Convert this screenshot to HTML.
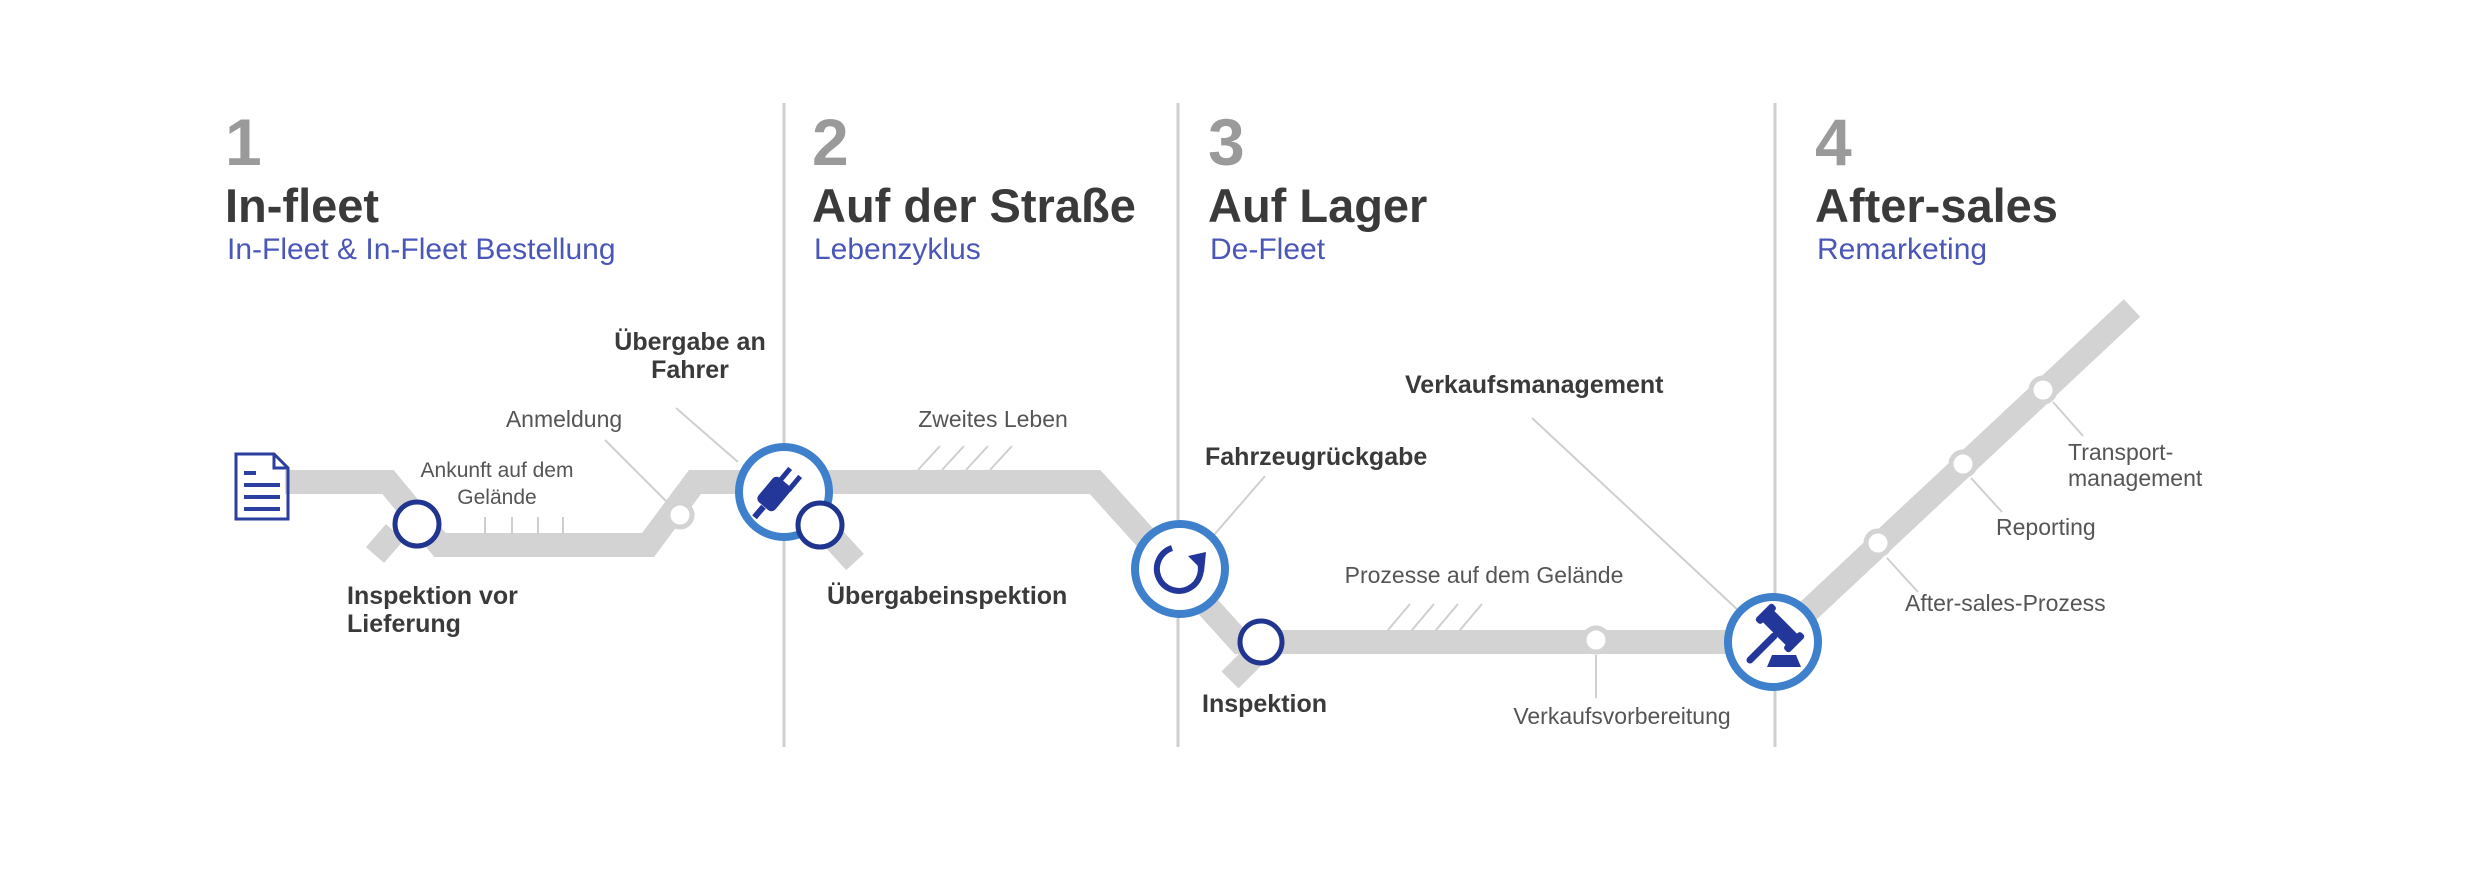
<!DOCTYPE html>
<html><head><meta charset="utf-8"><style>
html,body{margin:0;padding:0;background:#fff;}
svg{display:block;}
text{font-family:"Liberation Sans",sans-serif;}
.num{font-size:66px;font-weight:bold;fill:#9a9a9a;}
.ttl{font-size:47px;font-weight:bold;fill:#3a3a3a;}
.sub{font-size:30px;fill:#4a56b8;}
.lb{font-size:23px;fill:#555;}
.bl{font-size:25px;font-weight:bold;fill:#3a3a3a;}
</style></head><body>
<svg width="2480" height="876" viewBox="0 0 2480 876" xmlns="http://www.w3.org/2000/svg">
<g stroke="#cfcfcf" stroke-width="3">
<line x1="784" y1="103" x2="784" y2="747"/>
<line x1="1178" y1="103" x2="1178" y2="747"/>
<line x1="1775" y1="103" x2="1775" y2="747"/>
</g>
<text class="num" x="225" y="165">1</text>
<text class="ttl" x="225" y="222">In-fleet</text>
<text class="sub" x="227" y="259">In-Fleet &amp; In-Fleet Bestellung</text>
<text class="num" x="812" y="165">2</text>
<text class="ttl" x="812" y="222">Auf der Straße</text>
<text class="sub" x="814" y="259">Lebenzyklus</text>
<text class="num" x="1208" y="165">3</text>
<text class="ttl" x="1208" y="222">Auf Lager</text>
<text class="sub" x="1210" y="259">De-Fleet</text>
<text class="num" x="1815" y="165">4</text>
<text class="ttl" x="1815" y="222">After-sales</text>
<text class="sub" x="1817" y="259">Remarketing</text>

<g fill="none" stroke="#d3d3d3" stroke-width="24" stroke-linejoin="miter">
<path d="M285 482 L388 482 L440 545 L648 545 L695 482 L1095 482 L1240 642 L1775 642 L2132 308"/>
<line x1="395" y1="532" x2="375" y2="555"/>
<line x1="835" y1="540" x2="855" y2="562"/>
<line x1="1255" y1="655" x2="1230" y2="680"/>
</g>
<g stroke="#cfcfcf" stroke-width="2" fill="none">
<line x1="485" y1="517" x2="485" y2="535"/>
<line x1="512" y1="517" x2="512" y2="535"/>
<line x1="538" y1="517" x2="538" y2="535"/>
<line x1="563" y1="517" x2="563" y2="535"/>
<line x1="918" y1="470" x2="940" y2="446"/>
<line x1="942" y1="470" x2="964" y2="446"/>
<line x1="966" y1="470" x2="988" y2="446"/>
<line x1="990" y1="470" x2="1012" y2="446"/>
<line x1="1388" y1="630" x2="1410" y2="604"/>
<line x1="1412" y1="630" x2="1434" y2="604"/>
<line x1="1436" y1="630" x2="1458" y2="604"/>
<line x1="1460" y1="630" x2="1482" y2="604"/>
<line x1="605" y1="440" x2="670" y2="505"/>
<line x1="676" y1="408" x2="738" y2="462"/>
<line x1="1265" y1="476" x2="1214" y2="535"/>
<line x1="1532" y1="418" x2="1740" y2="612"/>
<line x1="1596" y1="655" x2="1596" y2="698"/>
<line x1="1887" y1="558" x2="1918" y2="592"/>
<line x1="1971" y1="478" x2="2002" y2="512"/>
<line x1="2053" y1="402" x2="2083" y2="436"/>
</g>
<g fill="#fff" stroke="#d3d3d3" stroke-width="5">
<circle cx="680" cy="515" r="12"/>
<circle cx="1596" cy="640" r="12"/>
<circle cx="1878" cy="543" r="12"/>
<circle cx="1963" cy="464" r="12"/>
<circle cx="2043" cy="390" r="12"/>
</g>
<g fill="#fff" stroke="#1f3590" stroke-width="5">
<circle cx="417" cy="524" r="22"/>
<circle cx="1261" cy="642" r="21"/>
</g>
<g fill="#fff" stroke="#3f80cc" stroke-width="8">
<circle cx="784" cy="492" r="45"/>
<circle cx="1180" cy="569" r="45"/>
<circle cx="1773" cy="642" r="45"/>
</g>
<circle cx="820" cy="525" r="22" fill="#fff" stroke="#1f3590" stroke-width="5"/>
<g fill="#23369a">
<rect x="763" y="478" width="22" height="32" rx="5" transform="rotate(40 774 494)"/>
<rect x="782" y="466" width="5" height="18" transform="rotate(40 784 475)"/>
<rect x="792" y="474" width="5" height="18" transform="rotate(40 794 483)"/>
<rect x="756" y="505" width="6" height="14" transform="rotate(40 759 512)"/>
</g>
<path d="M1198 558 A22 22 0 1 1 1172 548" fill="none" stroke="#23369a" stroke-width="6"/>
<polygon points="1188,556 1206,552 1204,572" fill="#23369a"/>
<!-- gavel -->
<g fill="#23369a" transform="rotate(-45 1780 628)">
<rect x="1772" y="610" width="16" height="36"/>
<rect x="1768" y="604" width="24" height="8" rx="3"/>
<rect x="1768" y="644" width="24" height="8" rx="3"/>
</g>
<line x1="1750" y1="660" x2="1774" y2="636" stroke="#23369a" stroke-width="7" stroke-linecap="round"/>
<polygon points="1772,655 1796,655 1801,667 1767,667" fill="#23369a"/>
<g fill="none" stroke="#2a3fa0" stroke-width="3">
<path d="M236 454 L274 454 L288 468 L288 519 L236 519 Z"/>
<path d="M274 454 L274 468 L288 468"/>
</g>
<g stroke="#2a3fa0" stroke-width="4">
<line x1="244" y1="473" x2="256" y2="473"/>
<line x1="244" y1="485" x2="280" y2="485"/>
<line x1="244" y1="497" x2="280" y2="497"/>
<line x1="244" y1="509" x2="280" y2="509"/>
</g>

<text class="bl" x="690" y="350" text-anchor="middle">Übergabe an</text>
<text class="bl" x="690" y="378" text-anchor="middle">Fahrer</text>
<text class="lb" x="564" y="427" text-anchor="middle">Anmeldung</text>
<text class="lb" x="497" y="477" text-anchor="middle" style="font-size:21px">Ankunft auf dem</text>
<text class="lb" x="497" y="504" text-anchor="middle" style="font-size:21px">Gelände</text>
<text class="bl" x="347" y="604">Inspektion vor</text>
<text class="bl" x="347" y="632">Lieferung</text>
<text class="lb" x="993" y="427" text-anchor="middle">Zweites Leben</text>
<text class="bl" x="827" y="604">Übergabeinspektion</text>
<text class="bl" x="1205" y="465">Fahrzeugrückgabe</text>
<text class="bl" x="1405" y="393">Verkaufsmanagement</text>
<text class="lb" x="1484" y="583" text-anchor="middle">Prozesse auf dem Gelände</text>
<text class="bl" x="1202" y="712">Inspektion</text>
<text class="lb" x="1622" y="724" text-anchor="middle">Verkaufsvorbereitung</text>
<text class="lb" x="2068" y="460">Transport-</text>
<text class="lb" x="2068" y="486">management</text>
<text class="lb" x="1996" y="535">Reporting</text>
<text class="lb" x="1905" y="611">After-sales-Prozess</text>
</svg>
</body></html>
